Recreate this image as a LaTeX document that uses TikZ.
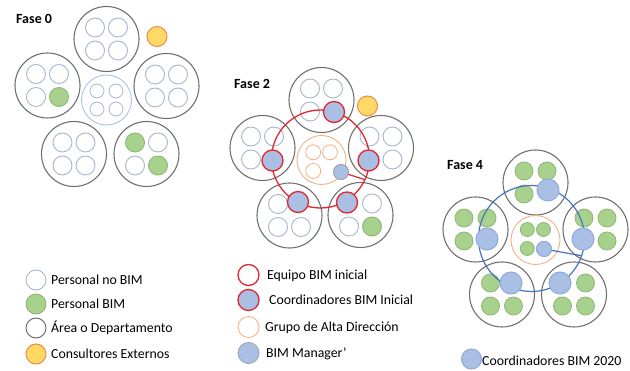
\documentclass[tikz,border=0pt]{standalone}
\usepackage{fontspec}
\setmainfont{Carlito}
\definecolor{deptgray}{HTML}{707070}
\definecolor{nobimline}{HTML}{A5B8CC}
\definecolor{bimgreen}{HTML}{A9D18E}
\definecolor{bimgreenline}{HTML}{8DB873}
\definecolor{consultfill}{HTML}{FFD966}
\definecolor{consultline}{HTML}{EF8A4C}
\definecolor{teamred}{HTML}{E3262F}
\definecolor{coordfill}{HTML}{A9BFE3}
\definecolor{coordline}{HTML}{8FAADC}
\definecolor{ringblue}{HTML}{4472C4}
\definecolor{mgmtorange}{HTML}{F2B084}
\definecolor{hubblue}{HTML}{A8C3E6}
\definecolor{managerline}{HTML}{A0A6B0}

% one department: outer circle plus a 2x2 grid of people (tl, tr, bl, br)
\newcommand{\deptunit}[7]{%
  \node[dept] (#1) at (#2,#3) {};
  \node[#4] (#1-tl) at ({#2-11.5},{#3-11.5}) {};
  \node[#5] (#1-tr) at ({#2+11.5},{#3-11.5}) {};
  \node[#6] (#1-bl) at ({#2-11.5},{#3+11.5}) {};
  \node[#7] (#1-br) at ({#2+11.5},{#3+11.5}) {};
}

\begin{document}
\begin{tikzpicture}[x=1pt,y=-1pt,
  base/.style={circle, inner sep=0pt, outer sep=0pt},
  dept/.style={base, draw=deptgray, line width=1.1pt, fill=white, minimum size=65pt},
  noBIM/.style={base, draw=nobimline, line width=0.9pt, fill=white, minimum size=19pt},
  withBIM/.style={base, draw=bimgreenline, line width=0.9pt, fill=bimgreen, minimum size=19pt},
  smallBIM/.style={base, draw=bimgreenline, line width=0.8pt, fill=bimgreen, minimum size=18pt},
  consult/.style={base, draw=consultline, line width=1pt, fill=consultfill, minimum size=20pt},
  coordR/.style={base, draw=teamred, line width=1.3pt, fill=coordfill, minimum size=21pt},
  coordB/.style={base, draw=coordline, line width=1pt, fill=coordfill, minimum size=22pt},
  hub/.style={base, draw=hubblue, line width=0.9pt, minimum size=50pt},
  hubperson/.style={base, draw=nobimline, line width=0.8pt, fill=white, minimum size=14pt},
  mgmt/.style={base, draw=mgmtorange, line width=0.9pt, minimum size=49pt},
  mgmtperson/.style={base, draw=mgmtorange, line width=0.8pt, minimum size=15pt},
  mgmtBIM/.style={base, draw=bimgreenline, line width=0.8pt, fill=bimgreen, minimum size=14pt},
  manager/.style={base, draw=managerline, line width=0.9pt, fill=coordfill, minimum size=15pt},
  managerB/.style={base, draw=coordline, line width=0.9pt, fill=coordfill, minimum size=15pt},
  teamring/.style={base, draw=teamred, line width=1.3pt, minimum size=98pt},
  bluering/.style={base, draw=ringblue, line width=1.2pt, minimum size=106pt},
  phase/.style={anchor=base west, inner sep=0pt, font=\bfseries\fontsize{14}{16}\selectfont},
  legtext/.style={anchor=base west, inner sep=0pt, font=\fontsize{13.8}{16}\selectfont},
  legmark/.style={minimum size=20pt}
]
\useasboundingbox (0,0) rectangle (630,371);

% ---------------- Fase 0 ----------------
\node[phase] (t0) at (16,24) {Fase 0};
\deptunit{p0t}{106.5}{39}{noBIM}{noBIM}{noBIM}{noBIM}
\deptunit{p0l}{47.5}{85.5}{noBIM}{noBIM}{noBIM}{withBIM}
\deptunit{p0r}{166.5}{86}{noBIM}{noBIM}{noBIM}{noBIM}
\deptunit{p0bl}{74}{154}{noBIM}{noBIM}{noBIM}{noBIM}
\deptunit{p0br}{146.5}{154}{withBIM}{noBIM}{noBIM}{withBIM}
\node[hub] (h0) at (106.5,100) {};
\node[hubperson] (h0a) at (97,91) {};
\node[hubperson] (h0b) at (116,91) {};
\node[hubperson] (h0c) at (97,109) {};
\node[hubperson] (h0d) at (116,109) {};
\node[consult] (c0) at (157,36.5) {};

% ---------------- Fase 2 ----------------
\node[phase] (t2) at (234,89) {Fase 2};
\deptunit{p2t}{321.5}{100}{noBIM}{noBIM}{noBIM}{coordinate}
\deptunit{p2l}{262.5}{148}{noBIM}{noBIM}{noBIM}{coordinate}
\deptunit{p2r}{381}{148}{noBIM}{noBIM}{coordinate}{noBIM}
\deptunit{p2bl}{289.5}{215.5}{noBIM}{coordinate}{noBIM}{noBIM}
\deptunit{p2br}{360.5}{215}{coordinate}{noBIM}{noBIM}{withBIM}
\node[mgmt] (g2) at (321.5,160) {};
\node[mgmtperson] (g2a) at (313.2,152.3) {};
\node[mgmtperson] (g2b) at (330,152.3) {};
\node[mgmtperson] (g2c) at (313.2,171) {};
\node[teamring] (r2) at (320.5,159) {};
\node[coordR] (k2t) at (334,112) {};
\node[coordR] (k2l) at (272.5,160.5) {};
\node[coordR] (k2r) at (368.5,160.5) {};
\node[coordR] (k2bl) at (298,202) {};
\node[coordR] (k2br) at (347,202.5) {};
\node[manager] (m2) at (341,172) {};
\draw[teamred, line width=1.2pt] (m2) -- (r2.-25);
\node[manager] at (m2) {};
\node[consult] (c2) at (367.5,106) {};

% ---------------- Fase 4 ----------------
\node[phase] (t4) at (447,169.5) {Fase 4};
\deptunit{p4t}{535.5}{182.5}{smallBIM}{smallBIM}{smallBIM}{coordinate}
\deptunit{p4l}{475.5}{229.5}{smallBIM}{smallBIM}{smallBIM}{coordinate}
\deptunit{p4r}{595.5}{229.5}{smallBIM}{smallBIM}{coordinate}{smallBIM}
\deptunit{p4bl}{502}{294.5}{smallBIM}{coordinate}{smallBIM}{smallBIM}
\deptunit{p4br}{574}{294.5}{coordinate}{smallBIM}{smallBIM}{smallBIM}
\node[mgmt] (g4) at (535.5,240) {};
\node[mgmtBIM] (g4a) at (527.3,229.5) {};
\node[mgmtBIM] (g4b) at (543.5,229.5) {};
\node[mgmtBIM] (g4c) at (527.3,248.5) {};
\node[bluering] (r4) at (531.5,238.5) {};
\node[coordB] (k4t) at (548,190) {};
\node[coordB] (k4l) at (487,239) {};
\node[coordB] (k4r) at (583,239) {};
\node[coordB] (k4bl) at (511,283) {};
\node[coordB] (k4br) at (560,283) {};
\node[managerB] (m4) at (544,249) {};
\draw[ringblue, line width=1.2pt] (m4) -- (r4.-19);
\node[managerB] at (m4) {};

% ---------------- Legend ----------------
\node[noBIM, legmark] (l1) at (36,280) {};
\node[legtext] (l1t) at (51,284.5) {Personal no BIM};
\node[withBIM, legmark] (l2) at (36,304) {};
\node[legtext] (l2t) at (51,308.5) {Personal BIM};
\node[dept, legmark, line width=1pt] (l3) at (36,328) {};
\node[legtext] (l3t) at (51,332.5) {Área o Departamento};
\node[consult] (l4) at (36,354) {};
\node[legtext] (l4t) at (51,358.5) {Consultores Externos};

\node[base, draw=teamred, line width=1.3pt, fill=white, minimum size=21pt] (l5) at (248.5,275) {};
\node[legtext] (l5t) at (267,279.5) {Equipo BIM inicial};
\node[coordR] (l6) at (248.5,300) {};
\node[legtext] (l6t) at (269,304.5) {Coordinadores BIM Inicial};
\node[mgmtperson, fill=white, minimum size=21pt] (l7) at (248.5,327) {};
\node[legtext] (l7t) at (265,331.5) {Grupo de Alta Dirección};
\node[manager, minimum size=21pt] (l8) at (248.5,353) {};
\node[legtext] (l8t) at (266,357.5) {BIM Manager’};

\node[coordB, minimum size=20pt] (l9) at (471.5,359) {};
\node[legtext] (l9t) at (482,365.5) {Coordinadores BIM 2020};
\end{tikzpicture}
\end{document}
